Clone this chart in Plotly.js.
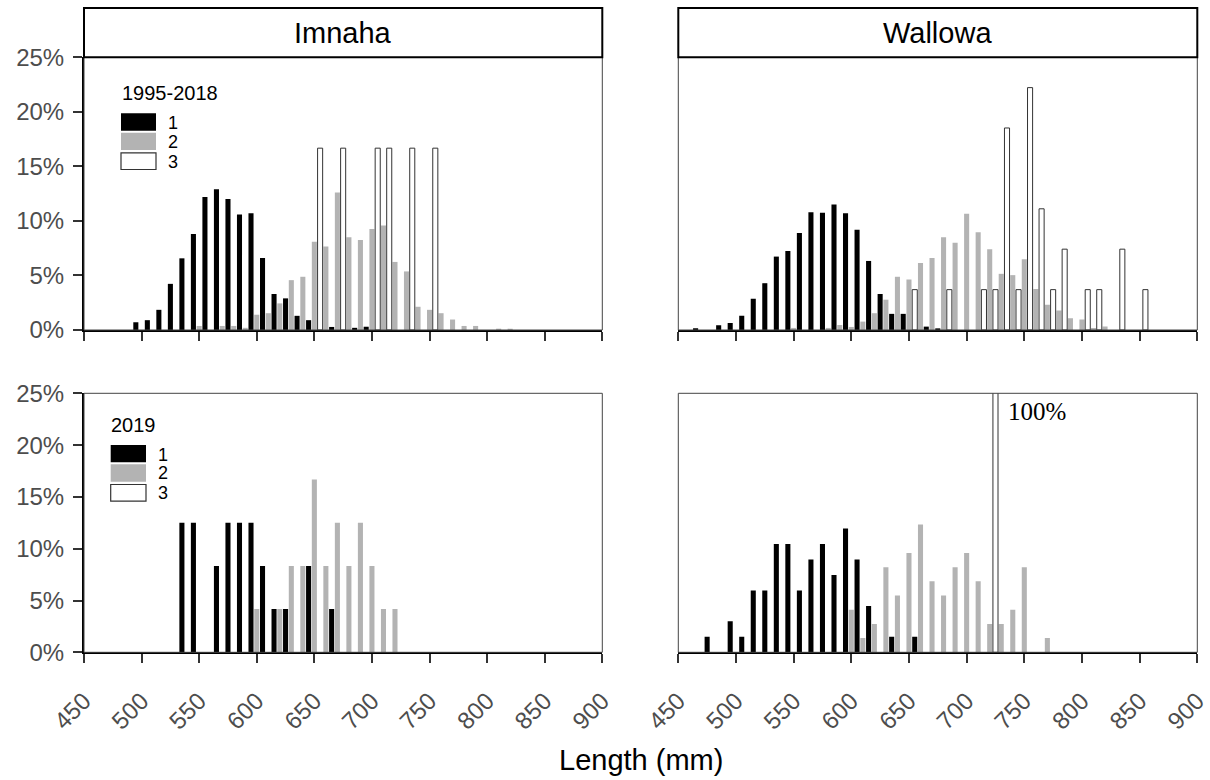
<!DOCTYPE html>
<html>
<head>
<meta charset="utf-8">
<script src="https://cdn.plot.ly/plotly-3.0.1.min.js"></script>
<style>html,body{margin:0;padding:0;background:#fff;}#chart{width:1210px;height:780px;}</style>
</head>
<body>
<div id="chart"></div>
<script>
// ---------- DATA (length in mm, percent of fish) ----------
const panelTitles = ["Imnaha", "Wallowa"];
const periodLabels = ["1995-2018", "2019"];
const ageLabels = ["1", "2", "3"];
const xTickVals = [450, 500, 550, 600, 650, 700, 750, 800, 850, 900];
const yTickVals = [0, 5, 10, 15, 20, 25];
const yTickText = ["0%", "5%", "10%", "15%", "20%", "25%"];

// Imnaha 1995-2018
const imn95_age1_len = [495,505,515,525,535,545,555,565,575,585,595,605,615,625,635,645,665,685,695];
const imn95_age1_pct = [0.71,0.9,1.85,4.23,6.57,8.8,12.2,12.9,12.0,10.6,10.7,6.6,3.3,2.9,1.3,0.9,0.28,0.2,0.3];
const imn95_age2_len = [550,570,580,590,600,610,620,630,640,650,660,670,680,690,700,710,720,730,740,750,760,770,780,790,810,820];
const imn95_age2_pct = [0.37,0.37,0.37,0.2,1.4,1.54,2.44,4.57,4.88,8.1,7.65,12.6,8.5,8.24,9.26,9.57,6.24,5.37,2.13,1.85,1.54,0.96,0.37,0.37,0.12,0.12];
const imn95_age3_len = [655,675,705,715,735,755];
const imn95_age3_pct = [16.67,16.67,16.67,16.67,16.67,16.67];

// Wallowa 1995-2018
const wal95_age1_len = [465,485,495,505,515,525,535,545,555,565,575,585,595,605,615,625,635,645,665,675];
const wal95_age1_pct = [0.15,0.43,0.65,1.3,2.87,4.29,6.73,7.25,8.89,10.8,10.74,11.5,10.7,9.2,6.33,3.3,1.48,1.48,0.31,0.15];
const wal95_age2_len = [550,580,590,600,610,620,630,640,650,660,670,680,690,700,710,720,730,740,750,760,770,780,790,800,810,820];
const wal95_age2_pct = [0.19,0.19,0.46,0.28,0.77,1.54,2.78,4.88,4.63,6.14,6.6,8.5,8.0,10.65,8.95,7.4,5.15,5.03,6.48,3.77,2.31,1.79,1.08,0.96,0.19,0.31];
const wal95_age3_len = [655,685,715,725,735,745,755,765,775,785,805,815,835,855];
const wal95_age3_pct = [3.7,3.7,3.7,3.7,18.52,3.7,22.22,11.11,3.7,7.41,3.7,3.7,7.41,3.7];

// Imnaha 2019
const imn19_age1_len = [535,545,565,575,585,595,605,615,625,645,665];
const imn19_age1_pct = [12.5,12.5,8.33,12.5,12.5,12.5,8.33,4.17,4.17,8.33,4.17];
const imn19_age2_len = [600,620,630,640,650,660,670,680,690,700,710,720];
const imn19_age2_pct = [4.17,4.17,8.33,8.33,16.67,8.33,12.5,8.33,12.5,8.33,4.17,4.17];
const imn19_age3_len = [];
const imn19_age3_pct = [];

// Wallowa 2019
const wal19_age1_len = [475,495,505,515,525,535,545,555,565,575,585,595,605,615,635,655];
const wal19_age1_pct = [1.49,2.99,1.49,5.97,5.97,10.45,10.45,5.97,8.96,10.45,7.46,11.94,8.96,4.48,1.49,1.49];
const wal19_age2_len = [600,610,620,630,640,650,660,670,680,690,700,710,720,730,740,750,770];
const wal19_age2_pct = [4.11,1.37,2.74,8.22,5.48,9.59,12.33,6.85,5.48,8.22,9.59,6.85,2.74,2.74,4.11,8.22,1.37];
const wal19_age3_len = [725];
const wal19_age3_pct = [100];

// ---------- BUILD ----------
const W = 1210, H = 780;
const px = v => v / W;
const py = v => 1 - v / H;

const panels = [
  {ax: "", data: [[imn95_age1_len, imn95_age1_pct],[imn95_age2_len, imn95_age2_pct],[imn95_age3_len, imn95_age3_pct]]},
  {ax: "2", data: [[wal95_age1_len, wal95_age1_pct],[wal95_age2_len, wal95_age2_pct],[wal95_age3_len, wal95_age3_pct]]},
  {ax: "3", data: [[imn19_age1_len, imn19_age1_pct],[imn19_age2_len, imn19_age2_pct],[imn19_age3_len, imn19_age3_pct]]},
  {ax: "4", data: [[wal19_age1_len, wal19_age1_pct],[wal19_age2_len, wal19_age2_pct],[wal19_age3_len, wal19_age3_pct]]}
];

const styles = [
  {color: "#000000", line: {width: 0}},
  {color: "#b3b3b3", line: {width: 0}},
  {color: "#ffffff", line: {width: 1, color: "#333333"}}
];
const drawOrder = [1, 0, 2];

const traces = [];
panels.forEach(p => {
  drawOrder.forEach(k => {
    traces.push({
      type: "bar",
      x: p.data[k][0],
      y: p.data[k][1],
      width: 4.4,
      marker: {color: styles[k].color, line: styles[k].line},
      xaxis: "x" + p.ax,
      yaxis: "y" + p.ax,
      showlegend: false,
      hoverinfo: "x+y"
    });
  });
});

const xDomL = [px(84), px(602.3)];
const xDomR = [px(678.3), px(1197.3)];
const yDomT = [py(330), py(57.3)];
const yDomB = [py(652.3), py(393.3)];

const tickFont = {family: "Arial, 'Liberation Sans', sans-serif", size: 24, color: "#4d4d4d"};

function xAxis(domain, anchor, labels) {
  return {
    domain: domain, anchor: anchor, range: [450, 900],
    tickvals: xTickVals, ticktext: xTickVals.map(String),
    showticklabels: labels, tickangle: -45, tickfont: tickFont,
    ticklabelstandoff: 14,
    ticks: "outside", ticklen: 9, tickwidth: 2, tickcolor: "#333333",
    showline: true, linecolor: "#000000", linewidth: 2,
    showgrid: false, zeroline: false, fixedrange: true
  };
}
function yAxis(domain, anchor, left) {
  return {
    domain: domain, anchor: anchor, range: [0, 25],
    tickvals: yTickVals, ticktext: yTickText,
    showticklabels: left, tickfont: tickFont,
    ticklabelstandoff: 4,
    ticks: left ? "outside" : "", ticklen: 9, tickwidth: 2, tickcolor: "#333333",
    showline: left, linecolor: "#000000", linewidth: 2,
    showgrid: false, zeroline: false, fixedrange: true
  };
}

const shapes = [];
const annotations = [];
const baseFont = "Arial, 'Liberation Sans', sans-serif";

// panel frames
["", "2", "3", "4"].forEach(a => {
  shapes.push({type: "rect", xref: "x" + a + " domain", yref: "y" + a + " domain",
    x0: 0, x1: 1, y0: 0, y1: 1, line: {color: "#444444", width: 1}, layer: "above"});
});

// strips
[["x", panelTitles[0], 343.2], ["x2", panelTitles[1], 937.8]].forEach(s => {
  shapes.push({type: "rect", xref: s[0] + " domain", yref: "paper",
    x0: 0, x1: 1, y0: py(57.3), y1: py(8), line: {color: "#000000", width: 2}, fillcolor: "#ffffff"});
  annotations.push({xref: "paper", yref: "paper", x: px(s[2]), y: py(33), text: s[1],
    showarrow: false, xanchor: "center", yanchor: "middle",
    font: {family: baseFont, size: 29, color: "#000000"}});
});

// legends (left panels)
function legendBlock(title, tx, ty, kx0, kx1, keyRows, lx, labelYs) {
  annotations.push({xref: "paper", yref: "paper", x: px(tx), y: py(ty), text: title,
    showarrow: false, xanchor: "left", yanchor: "middle",
    font: {family: baseFont, size: 20, color: "#000000"}});
  keyRows.forEach((r, i) => {
    shapes.push({type: "rect", xref: "paper", yref: "paper",
      x0: px(kx0), x1: px(kx1), y0: py(r[1]), y1: py(r[0]),
      fillcolor: styles[i].color,
      line: i === 2 ? {color: "#333333", width: 1.2} : {width: 0}});
    annotations.push({xref: "paper", yref: "paper", x: px(lx), y: py(labelYs[i]), text: ageLabels[i],
      showarrow: false, xanchor: "left", yanchor: "middle",
      font: {family: baseFont, size: 18, color: "#000000"}});
  });
}
legendBlock(periodLabels[0], 120, 92.5, 121, 156,
  [[113.3, 130.7], [132.7, 150], [152.8, 169.5]], 166, [122.5, 141.5, 161.5]);
legendBlock(periodLabels[1], 109, 425, 110.7, 146,
  [[445, 462.3], [464.3, 481.7], [484.5, 501.2]], 155.5, [454.5, 473, 493]);

// 100% label
annotations.push({xref: "paper", yref: "paper", x: px(1006), y: py(411), text: "100%",
  showarrow: false, xanchor: "left", yanchor: "middle",
  font: {family: "'Liberation Serif', 'Times New Roman', serif", size: 25, color: "#000000"}});

// x title
annotations.push({xref: "paper", yref: "paper", x: px(641), y: py(760), text: "Length (mm)",
  showarrow: false, xanchor: "center", yanchor: "middle",
  font: {family: baseFont, size: 29, color: "#000000"}});

const layout = {
  width: W, height: H,
  margin: {l: 0, r: 0, t: 0, b: 0},
  paper_bgcolor: "#ffffff", plot_bgcolor: "#ffffff",
  barmode: "overlay",
  showlegend: false,
  xaxis: xAxis(xDomL, "y", false),
  yaxis: yAxis(yDomT, "x", true),
  xaxis2: xAxis(xDomR, "y2", false),
  yaxis2: yAxis(yDomT, "x2", false),
  xaxis3: xAxis(xDomL, "y3", true),
  yaxis3: yAxis(yDomB, "x3", true),
  xaxis4: xAxis(xDomR, "y4", true),
  yaxis4: yAxis(yDomB, "x4", false),
  shapes: shapes,
  annotations: annotations
};

Plotly.newPlot("chart", traces, layout, {displayModeBar: false, staticPlot: true});
</script>
</body>
</html>
